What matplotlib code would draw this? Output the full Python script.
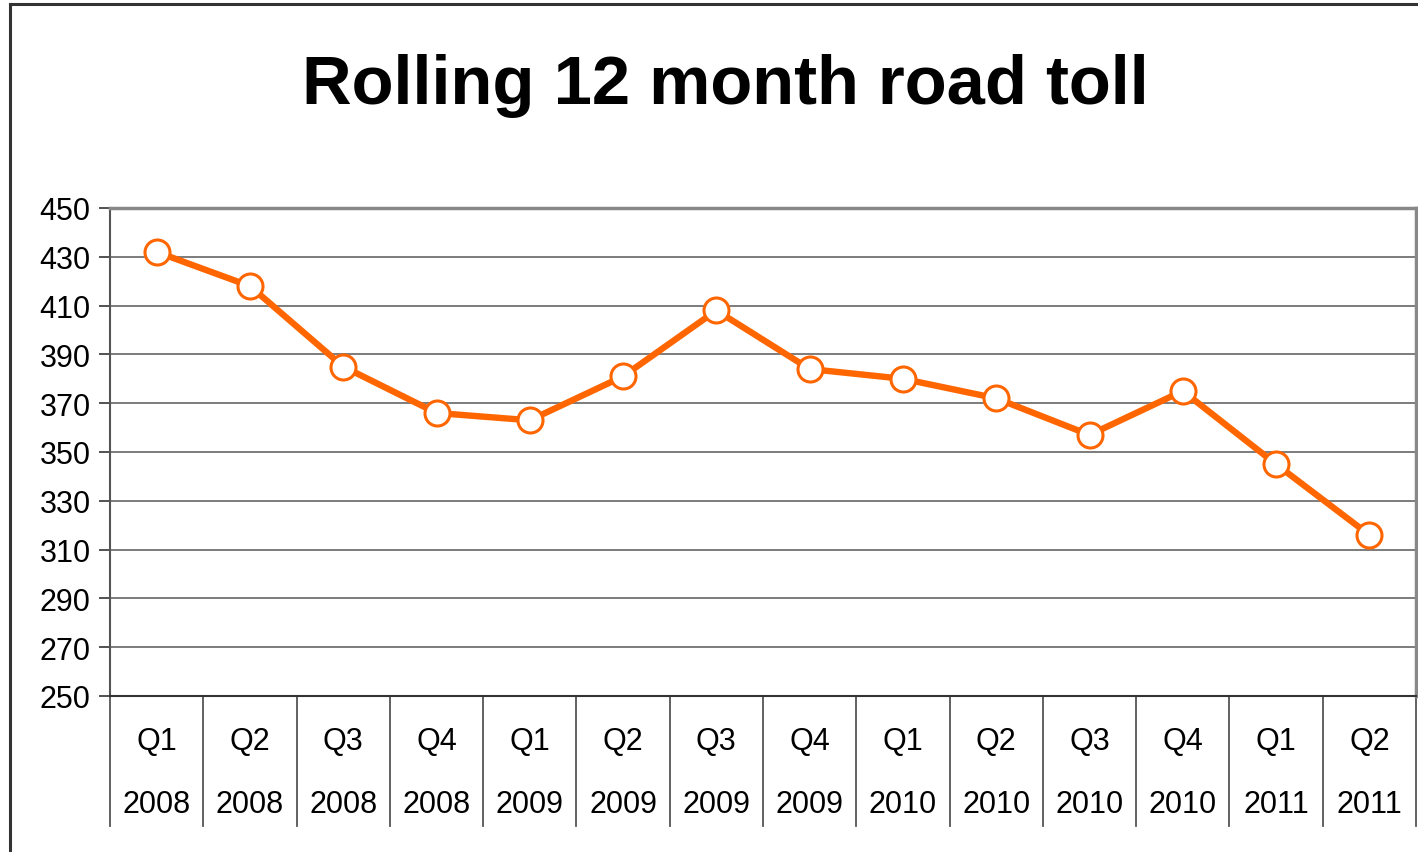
import matplotlib
matplotlib.use("Agg")
import matplotlib.pyplot as plt
import matplotlib.transforms as mtransforms
from matplotlib.lines import Line2D

# data
quarters = ["Q1", "Q2", "Q3", "Q4", "Q1", "Q2", "Q3", "Q4",
            "Q1", "Q2", "Q3", "Q4", "Q1", "Q2"]
years = ["2008", "2008", "2008", "2008", "2009", "2009", "2009", "2009",
         "2010", "2010", "2010", "2010", "2011", "2011"]
road_toll = [432, 418, 385, 366, 363, 381, 408, 384, 380, 372, 357, 375, 345, 316]
y_ticks = list(range(250, 451, 20))

plt.rcParams["font.family"] = ["Liberation Sans", "DejaVu Sans"]

W, H = 1418, 853
fig = plt.figure(figsize=(W / 100, H / 100), dpi=100)

# outer chart border (top and left visible)
fig.add_artist(Line2D([10 / W, 10 / W], [0, 1 - 5 / H], transform=fig.transFigure,
                      color="#333333", linewidth=2.2))
fig.add_artist(Line2D([10 / W, 1], [1 - 5 / H, 1 - 5 / H], transform=fig.transFigure,
                      color="#333333", linewidth=2.2))

left, right, top, bottom = 110, 1416, 209, 697
ax = fig.add_axes([left / W, 1 - bottom / H, (right - left) / W, (bottom - top) / H])

x = list(range(len(road_toll)))
ax.plot(x, road_toll, color="#FF6600", linewidth=4.6, marker="o", markersize=18,
        markerfacecolor="white", markeredgecolor="#FF6600", markeredgewidth=2.2,
        zorder=5, clip_on=False)

ax.set_xlim(-0.5, len(road_toll) - 0.5)
ax.set_ylim(250, 450)
ax.set_yticks(y_ticks)
ax.tick_params(axis="y", labelsize=22, length=8, width=1.2, color="#333333", pad=6)
ax.set_xticks([])
ax.yaxis.grid(True, color="#666666", linewidth=1.2)
ax.set_axisbelow(True)

for side in ["top", "right"]:
    ax.spines[side].set_color("#888888")
    ax.spines[side].set_linewidth(2.5)
ax.spines["left"].set_color("#555555")
ax.spines["left"].set_linewidth(1.5)
ax.spines["bottom"].set_color("#333333")
ax.spines["bottom"].set_linewidth(1.5)

# category separators and two-level labels below the axis
trans = mtransforms.blended_transform_factory(ax.transData, ax.transAxes)
sep_depth = (827 - bottom) / (bottom - top)
for i in range(len(road_toll) + 1):
    ax.plot([i - 0.5, i - 0.5], [0, -sep_depth], transform=trans, color="#555555",
            linewidth=1.3, clip_on=False)
q_y = -(742 - bottom) / (bottom - top)
yr_y = -(805 - bottom) / (bottom - top)
for i, (q, yr) in enumerate(zip(quarters, years)):
    ax.text(i, q_y, q, transform=trans, ha="center", va="center", fontsize=22)
    ax.text(i, yr_y, yr, transform=trans, ha="center", va="center", fontsize=22)

fig.text(725 / W, 1 - 86 / H, "Rolling 12 month road toll", ha="center", va="center",
         fontsize=49.5, fontweight="bold")

fig.savefig("out.png", dpi=100)
